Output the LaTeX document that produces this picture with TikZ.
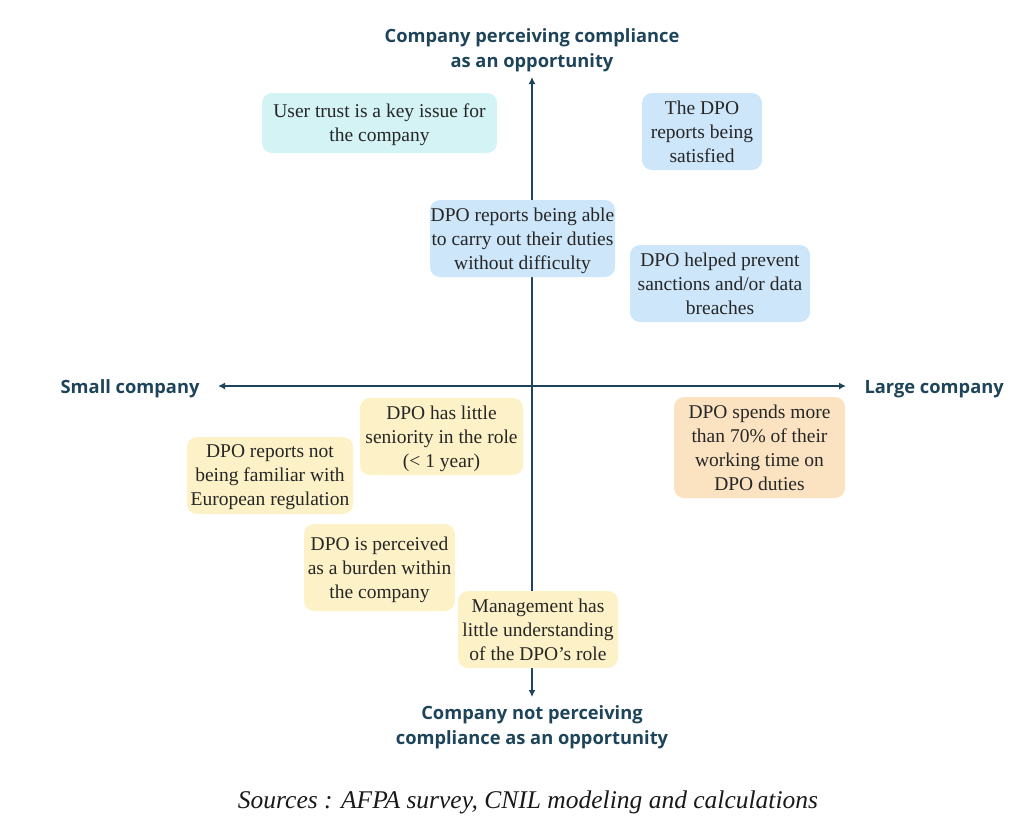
\documentclass[tikz,border=0pt]{standalone}
\usepackage{fontspec}
\setmainfont{Liberation Serif}
\newfontfamily\axisfont{Open Sans}
\usetikzlibrary{arrows.meta}
\definecolor{axisblue}{HTML}{1E4459}
\definecolor{trustcyan}{HTML}{D4F3F5}
\definecolor{oppblue}{HTML}{CDE6FA}
\definecolor{smallyellow}{HTML}{FDF2C7}
\definecolor{largepeach}{HTML}{FBE3C2}
\tikzset{
  quad/.style={rounded corners=10pt, align=center, inner sep=0pt,
    font=\fontsize{19.5}{24}\selectfont, text=black!85, text depth=-1pt},
  axislabel/.style={font=\axisfont\bfseries\fontsize{18.3}{25}\selectfont,
    text=axisblue, align=center},
  axisline/.style={draw=axisblue, line width=2pt,
    {Latex[length=7pt,width=7pt]}-{Latex[length=7pt,width=7pt]}},
}
\begin{document}
\begin{tikzpicture}[x=1pt,y=-1pt]
  \useasboundingbox (0,0) rectangle (1024,830);
  % axes
  \node[axislabel] (opp) at (532,50) {Company perceiving compliance\\as an opportunity};
  \node[axislabel] (noopp) at (532,727) {Company not perceiving\\compliance as an opportunity};
  \node[axislabel, anchor=east] (small) at (203,389) {Small company};
  \node[axislabel, anchor=west] (large) at (861,389) {Large company};
  \coordinate (top) at (532,77);
  \coordinate (bot) at (532,697);
  \coordinate (left) at (218,386);
  \coordinate (right) at (846,386);
  \draw[axisline] (bot) -- (top);
  \draw[axisline] (left) -- (right);
  % upper half
  \node[quad, fill=trustcyan, minimum width=235pt, minimum height=60pt] (trust) at (379.5,123)
    {User trust is a key issue for\\the company};
  \node[quad, fill=oppblue, minimum width=120pt, minimum height=77pt] (satisfied) at (702,131.5)
    {The DPO\\reports being\\satisfied};
  \node[quad, fill=oppblue, minimum width=185pt, minimum height=77pt] (duties) at (522.5,238.5)
    {DPO reports being able\\to carry out their duties\\without difficulty};
  \node[quad, fill=oppblue, minimum width=180pt, minimum height=77pt] (sanctions) at (720,283.5)
    {DPO helped prevent\\sanctions and/or data\\breaches};
  % lower half
  \node[quad, fill=smallyellow, minimum width=163pt, minimum height=77pt] (seniority) at (441.5,436.5)
    {DPO has little\\seniority in the role\\(< 1 year)};
  \node[quad, fill=smallyellow, minimum width=166pt, minimum height=77pt] (familiar) at (270,475.5)
    {DPO reports not\\being familiar with\\European regulation};
  \node[quad, fill=largepeach, minimum width=171pt, minimum height=101pt] (worktime) at (759.5,447.5)
    {DPO spends more\\than 70\% of their\\working time on\\DPO duties};
  \node[quad, fill=smallyellow, minimum width=151pt, minimum height=87pt] (burden) at (379.5,567.5)
    {DPO is perceived\\as a burden within\\the company};
  \node[quad, fill=smallyellow, minimum width=160pt, minimum height=77pt] (management) at (538,629.5)
    {Management has\\little understanding\\of the DPO’s role};
  % source
  \node[font=\itshape\fontsize{25.5}{28}\selectfont, text=black!90] (source) at (528,802)
    {Sources : AFPA survey, CNIL modeling and calculations};
\end{tikzpicture}
\end{document}
